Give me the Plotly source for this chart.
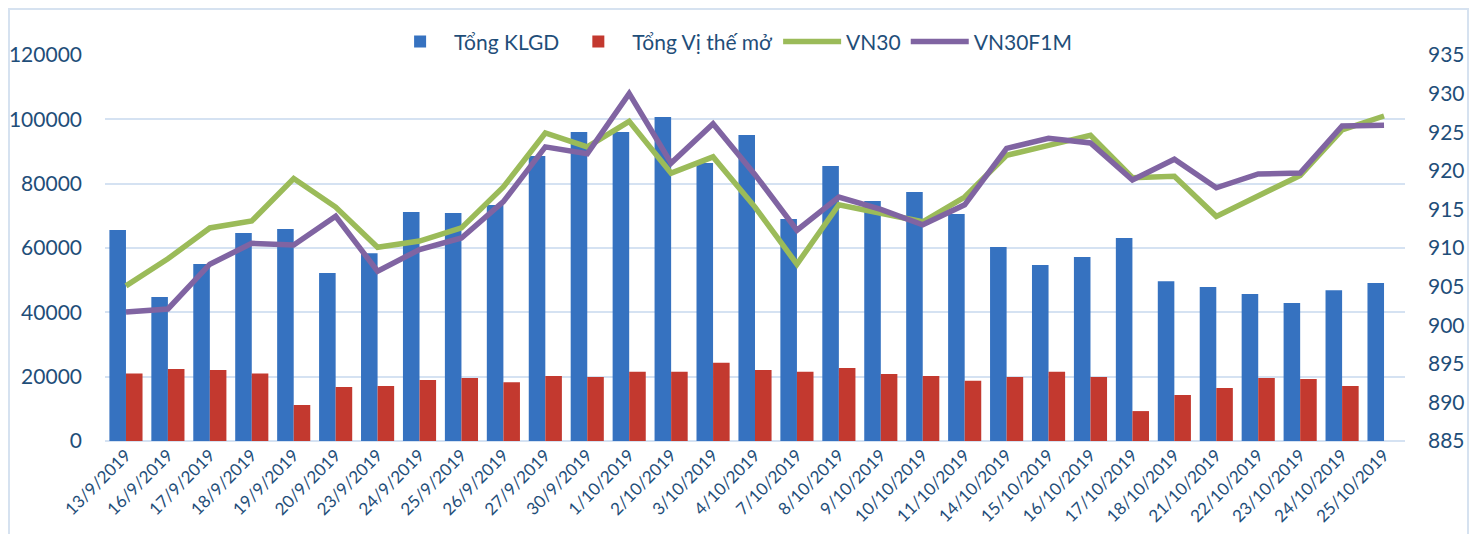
import plotly.graph_objects as go

dates = ["13/9/2019","16/9/2019","17/9/2019","18/9/2019","19/9/2019","20/9/2019","23/9/2019",
         "24/9/2019","25/9/2019","26/9/2019","27/9/2019","30/9/2019","1/10/2019","2/10/2019",
         "3/10/2019","4/10/2019","7/10/2019","8/10/2019","9/10/2019","10/10/2019","11/10/2019",
         "14/10/2019","15/10/2019","16/10/2019","17/10/2019","18/10/2019","21/10/2019",
         "22/10/2019","23/10/2019","24/10/2019","25/10/2019"]

tong_klgd = [65600, 44800, 55000, 64700, 65900, 52200, 58400, 71200, 70900, 73400, 88600,
             96100, 96100, 100700, 86400, 95100, 69000, 85500, 74600, 77400, 70600,
             60300, 54700, 57200, 63100, 49700, 47900, 45700, 42900, 46900, 49100]

tong_vtm = [21000, 22400, 22100, 21000, 11200, 16800, 17100, 19000, 19600, 18300, 20200,
            19900, 21500, 21500, 24300, 22100, 21500, 22700, 20800, 20200, 18700,
            19900, 21500, 19900, 9300, 14300, 16500, 19600, 19300, 17100, None]

vn30 = [905.1, 908.6, 912.6, 913.5, 919.0, 915.3, 910.1, 910.9, 912.6, 917.9, 924.9,
        923.1, 926.4, 919.7, 921.8, 915.3, 907.9, 915.6, 914.5, 913.4, 916.6,
        922.0, 923.3, 924.6, 919.1, 919.3, 914.1, 916.8, 919.4, 925.3, 927.1]

vn30f1m = [901.7, 902.1, 907.9, 910.6, 910.4, 914.1, 907.0, 909.8, 911.3, 916.0, 923.1,
           922.2, 930.0, 921.0, 926.1, 919.5, 912.3, 916.6, 915.0, 913.0, 915.6,
           922.9, 924.2, 923.6, 918.8, 921.5, 917.8, 919.6, 919.7, 925.8, 925.9]

TXT = "#1F4E79"
FONT = "Lato"

# page body has an 8px margin: figure is 1469x526 so it fills the 1477x534 window
W, H = 1469, 526
L, R, T, B = 97, 72, 47, 93
PW, PH = W - L - R, H - T - B

fig = go.Figure()
fig.add_trace(go.Bar(x=dates, y=tong_klgd, name="Tổng KLGD",
                     marker=dict(color="#3672C0", line=dict(width=0))))
fig.add_trace(go.Bar(x=dates, y=tong_vtm, name="Tổng Vị thế mở",
                     marker=dict(color="#C3392F", line=dict(width=0))))
fig.add_trace(go.Scatter(x=dates, y=vn30, name="VN30", yaxis="y2", mode="lines",
                         line=dict(color="#9BBB59", width=5.5)))
fig.add_trace(go.Scatter(x=dates, y=vn30f1m, name="VN30F1M", yaxis="y2", mode="lines",
                         line=dict(color="#8064A2", width=5.5)))

fig.update_layout(
    width=W, height=H,
    margin=dict(l=L, r=R, t=T, b=B),
    paper_bgcolor="white", plot_bgcolor="white",
    font=dict(family=FONT, color=TXT, size=21),
    barmode="group", bargap=0.21, bargroupgap=0,
    showlegend=True,
    legend=dict(orientation="h", x=0.482, xanchor="center", y=1.034, yanchor="middle",
                font=dict(size=21, color=TXT), bgcolor="rgba(0,0,0,0)",
                itemwidth=58, tracegroupgap=0),
    xaxis=dict(type="category", tickangle=-45, tickfont=dict(size=17, color=TXT),
               showgrid=False, showline=False, ticks="", automargin=False),
    yaxis=dict(range=[0, 120000], dtick=20000, tickformat="d",
               showgrid=True, gridcolor="#D5E2F2", gridwidth=1.5,
               zeroline=True, zerolinecolor="#D5E2F2", zerolinewidth=2,
               tickfont=dict(size=21, color=TXT), ticklabelstandoff=22, showline=False,
               automargin=False),
    yaxis2=dict(range=[885, 935], dtick=5, overlaying="y", side="right",
                showgrid=False, zeroline=False, showline=False,
                tickfont=dict(size=21, color=TXT), ticklabelstandoff=22,
                automargin=False),
    shapes=[dict(type="rect", xref="paper", yref="paper",
                 x0=(1 - L) / PW, x1=(1460 - L) / PW,
                 y0=(T + PH - 540) / PH, y1=(T + PH - 1) / PH,
                 line=dict(color="#D6E2F0", width=2), fillcolor="rgba(0,0,0,0)",
                 layer="below")],
)

fig.write_html("out.html")
